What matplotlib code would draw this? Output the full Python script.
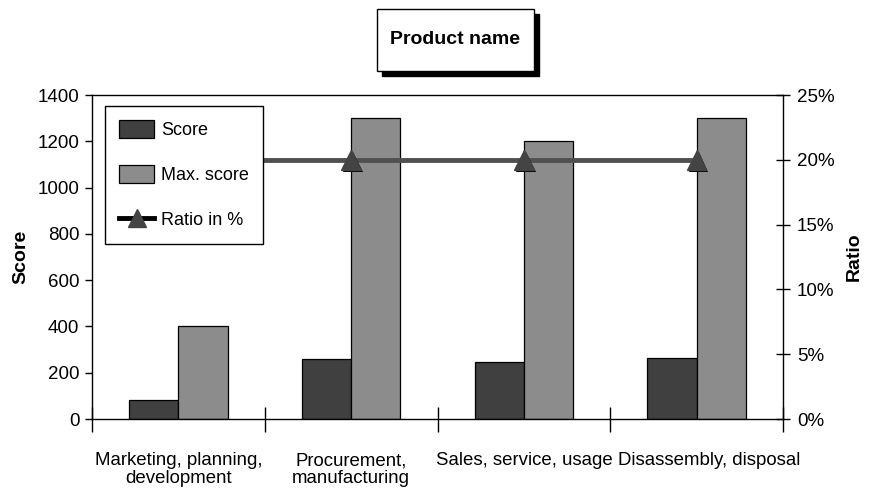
import numpy as np
import matplotlib
matplotlib.use('Agg')
import matplotlib.pyplot as plt
from matplotlib.lines import Line2D
from matplotlib.patches import Patch, Rectangle
from matplotlib.ticker import FixedLocator, PercentFormatter
from matplotlib.transforms import ScaledTranslation
import matplotlib.patheffects as pe

plt.rcParams['font.family'] = ['Liberation Sans', 'DejaVu Sans']

# Phase scores for the product
phases = ['Marketing, planning,\ndevelopment', 'Procurement,\nmanufacturing',
          'Sales, service, usage', 'Disassembly, disposal']
score = [82, 260, 245, 262]
max_score = [400, 1300, 1200, 1300]
ratio = [20, 20, 20, 20]

fig = plt.figure(figsize=(8.74, 4.91), dpi=100)
ax = fig.add_axes([92 / 874, 1 - 419 / 491, 691 / 874, 324 / 491])

x = np.arange(len(phases))
w = 1 / 3.5
ax.bar(x - w / 2, score, w, color='#404040', edgecolor='black', linewidth=0.9,
       label='Score', zorder=2)
ax.bar(x + w / 2, max_score, w, color='#8c8c8c', edgecolor='black', linewidth=0.9,
       label='Max. score', zorder=2)

ax.set_xlim(-0.5, len(phases) - 0.5)
ax.set_ylim(0, 1400)
ax.set_yticks(range(0, 1401, 200))
ax.tick_params(axis='y', direction='out', length=5, labelsize=13.5, width=1, pad=4)

# category separators as major ticks, labels on minor ticks
ax.xaxis.set_major_locator(FixedLocator(np.arange(-0.5, len(phases), 1.0)))
ax.xaxis.set_minor_locator(FixedLocator(x))
ax.set_xticklabels([], minor=False)
ax.set_xticklabels(phases, minor=True)
ax.tick_params(axis='x', which='major', direction='inout', length=18, width=1)
ax.tick_params(axis='x', which='minor', length=0, pad=24, labelsize=13.4)
xlabels = ax.get_xticklabels(minor=True)
for lbl in xlabels:
    lbl.set_linespacing(1.05)
# nudge the last label right so it clears its neighbour
xlabels[-1].set_transform(xlabels[-1].get_transform()
                          + ScaledTranslation(0.13, 0, fig.dpi_scale_trans))

for side in ['left', 'bottom', 'top']:
    ax.spines[side].set_linewidth(1)
ax.spines['right'].set_visible(False)
ax.set_ylabel('Score', fontsize=14, fontweight='bold', labelpad=6)

ax2 = ax.twinx()
ax2.plot(x, ratio, color='#505050', linewidth=3.5, marker='^', markersize=14,
         markerfacecolor='#444444', markeredgecolor='#444444', zorder=3,
         path_effects=[pe.SimplePatchShadow(offset=(1.5, -1.5), shadow_rgbFace='black', alpha=1),
                       pe.Normal()])
ax2.set_ylim(0, 25)
ax2.set_yticks(range(0, 26, 5))
ax2.yaxis.set_major_formatter(PercentFormatter(decimals=0))
ax2.tick_params(axis='y', direction='inout', length=10, labelsize=13.5, width=1, pad=5)
for side in ['left', 'bottom', 'top']:
    ax2.spines[side].set_visible(False)
ax2.spines['right'].set_linewidth(1)
ax2.set_ylabel('Ratio', fontsize=14, fontweight='bold', labelpad=8)

handles = [Patch(facecolor='#404040', edgecolor='black', linewidth=0.9),
           Patch(facecolor='#8c8c8c', edgecolor='black', linewidth=0.9),
           Line2D([], [], color='black', linewidth=3.5, marker='^', markersize=13,
                  markerfacecolor='#444444', markeredgecolor='#444444')]
leg = ax2.legend(handles, ['Score', 'Max. score', 'Ratio in %'],
                 loc='upper left', bbox_to_anchor=(13 / 691, 1 - 11 / 324),
                 frameon=True, fancybox=False, edgecolor='black', framealpha=1,
                 fontsize=13, handlelength=1.9, handleheight=1.1,
                 labelspacing=1.45, borderpad=0.8, handletextpad=0.4,
                 borderaxespad=0)
leg.get_frame().set_linewidth(1)
leg.set_zorder(5)

# title box with a drop shadow
bx, by, bw, bh = 377, 9, 157, 62
fig.patches.append(Rectangle(((bx + 5) / 874, 1 - (by + bh + 5) / 491), bw / 874, bh / 491,
                             transform=fig.transFigure, facecolor='black',
                             edgecolor='black', zorder=1))
fig.patches.append(Rectangle((bx / 874, 1 - (by + bh) / 491), bw / 874, bh / 491,
                             transform=fig.transFigure, facecolor='white',
                             edgecolor='black', linewidth=1, zorder=2))
fig.text((bx + bw / 2) / 874, 1 - (by + bh / 2) / 491, 'Product name',
         ha='center', va='center', fontsize=14, fontweight='bold', zorder=3)

fig.savefig('out.png', dpi=100)
